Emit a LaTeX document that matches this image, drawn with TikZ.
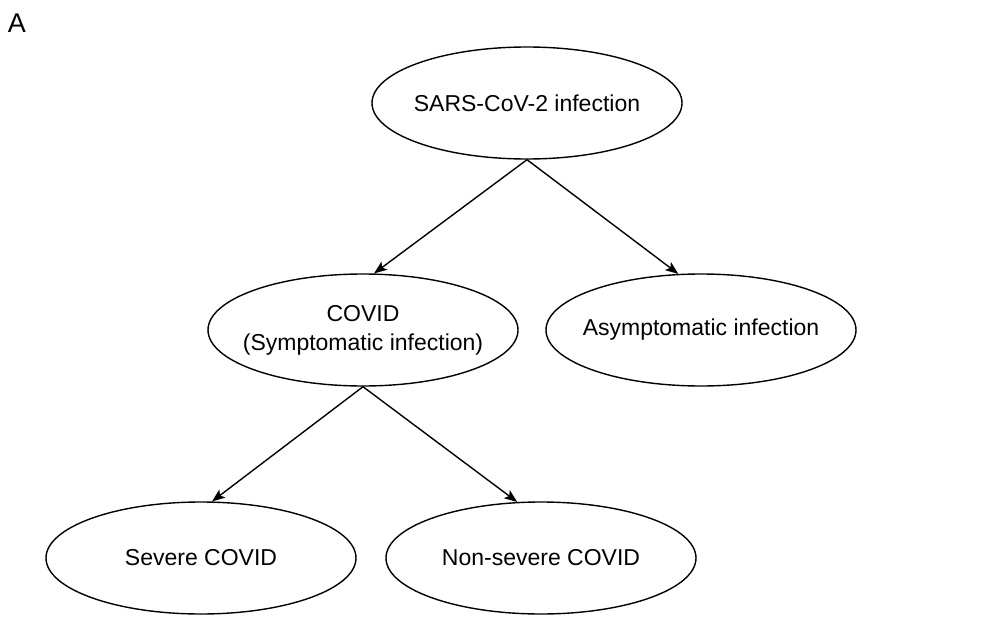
\documentclass[tikz,border=0pt]{standalone}
\usepackage{fontspec}
\setmainfont{Liberation Sans}
\usetikzlibrary{shapes.geometric,arrows.meta}
\begin{document}
\begin{tikzpicture}[x=1pt,y=-1pt,
  oval/.style={draw, ellipse, line width=1.4pt, minimum width=310pt, minimum height=112pt, inner xsep=-40pt, inner ysep=-15pt, align=center, font=\fontsize{23}{29}\selectfont},
  conn/.style={line width=1.4pt, -{Stealth[length=13pt,width=10pt,inset=3pt]}}]
\useasboundingbox (0,0) rectangle (986,642);
\node[font=\fontsize{27}{30}\selectfont] (lbl) at (17,23) {A};
\node[oval] (sars) at (527,103) {SARS-CoV-2 infection};
\node[oval] (covid) at (363,330) {COVID\\(Symptomatic infection)};
\node[oval] (asym) at (701,330) {Asymptomatic infection};
\node[oval] (severe) at (201,558) {Severe COVID};
\node[oval] (nonsev) at (541,558) {Non-severe COVID};
\draw[conn] (sars.south) -- (covid.79);
\draw[conn] (sars.south) -- (asym.112);
\draw[conn] (covid.south) -- (severe.79);
\draw[conn] (covid.south) -- (nonsev.113);
\end{tikzpicture}
\end{document}
